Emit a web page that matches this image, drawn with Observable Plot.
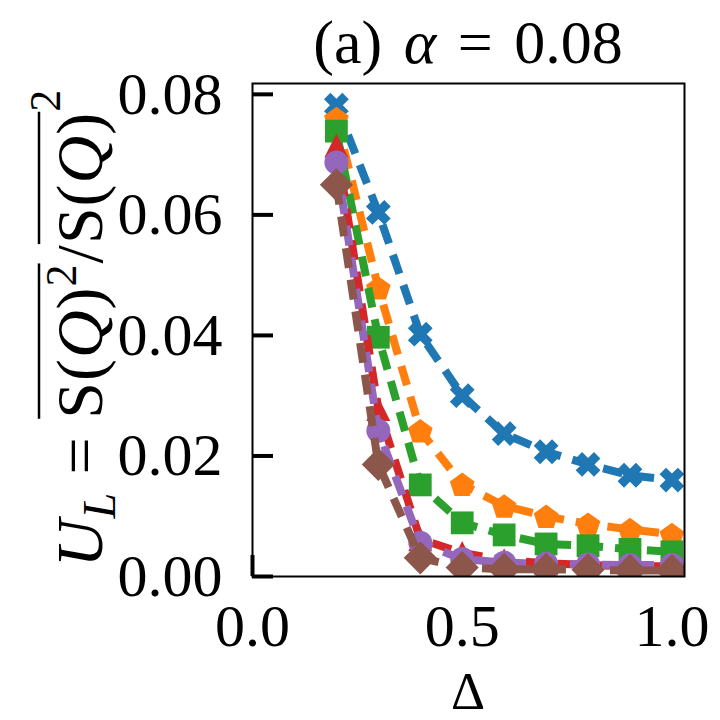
<!DOCTYPE html>
<html><head><meta charset="utf-8">
<script src="https://cdn.jsdelivr.net/npm/d3@7"></script>
<script src="https://cdn.jsdelivr.net/npm/@observablehq/plot@0.6"></script>
<style>body{margin:0;background:#fff}#chart{width:720px;height:720px}</style>
</head><body><div id="chart"></div>
<script>
// ---- data ----
const deltas = [0.2, 0.3, 0.4, 0.5, 0.6, 0.7, 0.8, 0.9, 1.0];
const seriesBlue   = [0.0782, 0.0604, 0.0402, 0.0300, 0.0237, 0.0207, 0.0186, 0.0168, 0.0160];
const seriesOrange = [0.0760, 0.0479, 0.0242, 0.0153, 0.0117, 0.0100, 0.0087, 0.0078, 0.0070];
const seriesGreen  = [0.0739, 0.0397, 0.0152, 0.0089, 0.0069, 0.0054, 0.0051, 0.0045, 0.0041];
const seriesRed    = [0.0715, 0.0278, 0.0062, 0.0039, 0.0027, 0.0022, 0.0019, 0.0017, 0.0017];
const seriesPurple = [0.0687, 0.0242, 0.0056, 0.0029, 0.0023, 0.0021, 0.0020, 0.0019, 0.0019];
const seriesBrown  = [0.0650, 0.0186, 0.0031, 0.0015, 0.0012, 0.0012, 0.0011, 0.0010, 0.0010];
const xTicks = [0, 0.5, 1.0];
const yTicks = [0, 0.02, 0.04, 0.06, 0.08];
const titleParts = ["(a) ", "α", " = 0.08"];
const xLabel = "Δ";

// ---- custom marker shapes (matplotlib-like) ----
const symX = {draw(ctx, size) {
  const R = Math.sqrt(size / Math.PI), r = R * 1.08, w = R * 0.38;
  const p = [[w,-r],[w,-w],[r,-w],[r,w],[w,w],[w,r],[-w,r],[-w,w],[-r,w],[-r,-w],[-w,-w],[-w,-r]]
    .map(([x,y]) => [(x - y) / Math.SQRT2, (x + y) / Math.SQRT2]);
  ctx.moveTo(...p[0]); for (const q of p.slice(1)) ctx.lineTo(...q); ctx.closePath();
}};
const symPent = {draw(ctx, size) {
  const R = Math.sqrt(size / Math.PI) * 1.08;
  for (let i = 0; i < 5; i++) {
    const a = -Math.PI / 2 + i * 2 * Math.PI / 5;
    const x = R * Math.cos(a), y = R * Math.sin(a) + R * 0.1;
    i ? ctx.lineTo(x, y) : ctx.moveTo(x, y);
  }
  ctx.closePath();
}};
const symSquare = {draw(ctx, size) {
  const h = Math.sqrt(size / Math.PI) * 0.95;
  ctx.rect(-h, -h, 2 * h, 2 * h);
}};
const symTri = {draw(ctx, size) {
  const h = Math.sqrt(size / Math.PI);
  ctx.moveTo(0, -h); ctx.lineTo(h, h); ctx.lineTo(-h, h); ctx.closePath();
}};
const symCircle = {draw(ctx, size) {
  const r = Math.sqrt(size / Math.PI);
  ctx.moveTo(r, 0); ctx.arc(0, 0, r, 0, 2 * Math.PI);
}};
const symDiamond = {draw(ctx, size) {
  const h = Math.sqrt(size / Math.PI) * 1.38;
  ctx.moveTo(0, -h); ctx.lineTo(h, 0); ctx.lineTo(0, h); ctx.lineTo(-h, 0); ctx.closePath();
}};

const series = [
  {values: seriesBlue,   color: "#1f77b4", symbol: symX},
  {values: seriesOrange, color: "#ff7f0e", symbol: symPent},
  {values: seriesGreen,  color: "#2ca02c", symbol: symSquare},
  {values: seriesRed,    color: "#d62728", symbol: symTri},
  {values: seriesPurple, color: "#9467bd", symbol: symCircle},
  {values: seriesBrown,  color: "#8c564b", symbol: symDiamond}
];

const dataMarks = series.flatMap(s => {
  const rows = deltas.map((d, i) => ({x: d, y: s.values[i]}));
  return [
    Plot.line(rows, {x: "x", y: "y", stroke: s.color, strokeWidth: 8, strokeDasharray: "20,12", strokeLinecap: "butt", clip: true}),
    Plot.dot(rows, {x: "x", y: "y", symbol: s.symbol, r: 12, fill: s.color, stroke: "none", clip: true})
  ];
});

const FONT = "Liberation Serif";
const plot = Plot.plot({
  width: 720, height: 720,
  marginLeft: 252, marginRight: 36, marginTop: 83, marginBottom: 144,
  x: {domain: [0, 1.03], label: null},
  y: {domain: [0, 0.0818], label: null},
  style: {fontFamily: FONT, fontSize: "60px", background: "white", color: "black", overflow: "visible"},
  marks: [
    Plot.axisX(xTicks, {tickSize: -21, strokeWidth: 4, tickFormat: () => "", label: null}),
    Plot.axisY(yTicks, {tickSize: -21, strokeWidth: 4, tickFormat: () => "", label: null}),
    ...dataMarks,
    Plot.axisX(xTicks, {tickSize: 0, tickPadding: 27, tickFormat: d3.format(".1f"), fontSize: 60, label: null}),
    Plot.axisY(yTicks, {tickSize: 0, tickPadding: 30, tickFormat: d3.format(".2f"), fontSize: 60, label: null}),
    Plot.frame({stroke: "black", strokeWidth: 2})
  ]
});
document.getElementById("chart").append(plot);

// ---- title, axis labels (real text) ----
const svg = d3.select(plot);
const cx = 468;
const title = svg.append("text").attr("x", cx).attr("y", 63).attr("text-anchor", "middle")
  .style("font-family", FONT).style("font-size", "62px").attr("fill", "black").style("word-spacing", "6px");
title.append("tspan").text(titleParts[0]);
title.append("tspan").attr("font-style", "italic").text(titleParts[1]);
title.append("tspan").text(titleParts[2]);

svg.append("text").attr("x", cx).attr("y", 708.5).attr("text-anchor", "middle")
  .style("font-family", FONT).style("font-size", "53px").attr("fill", "black").text(xLabel);

// y label: U_L = overline(S(Q)^2) / overline(S(Q))^2
const g = svg.append("g").attr("transform", "translate(102,328) rotate(-90)");
const yl = g.append("text").attr("text-anchor", "middle")
  .style("font-family", FONT).style("font-size", "66px").attr("fill", "black").style("letter-spacing", "1px");
yl.append("tspan").attr("font-style", "italic").text("U");
yl.append("tspan").attr("font-style", "italic").attr("font-size", "46px").attr("dy", 13).text("L");
yl.append("tspan").attr("dy", -13).text(" = S(");
yl.append("tspan").attr("font-style", "italic").text("Q");
yl.append("tspan").text(")");
yl.append("tspan").attr("font-size", "44px").attr("dy", -26).text("2");
yl.append("tspan").attr("dy", 26).text("/S(");
yl.append("tspan").attr("font-style", "italic").text("Q");
yl.append("tspan").text(")");
yl.append("tspan").attr("font-size", "44px").attr("dy", -42).text("2");
// overlines measured from the rendered glyphs
const node = yl.node();
function bar(i0, i1, yTop) {
  const a = node.getExtentOfChar(i0), b = node.getExtentOfChar(i1);
  g.append("line").attr("x1", a.x).attr("x2", b.x + b.width).attr("y1", yTop).attr("y2", yTop)
    .attr("stroke", "black").attr("stroke-width", 2.5);
}
const top1 = node.getExtentOfChar(6).y;
bar(5, 9, top1 - 4);
bar(11, 14, top1 - 4);
</script>
</body></html>
